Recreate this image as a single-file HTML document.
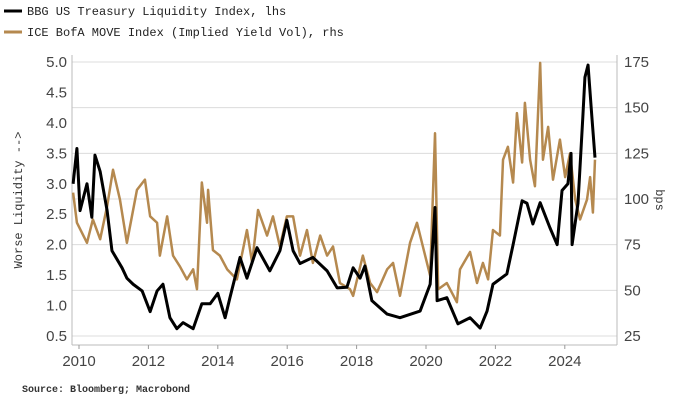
<!DOCTYPE html>
<html><head><meta charset="utf-8"><style>
body{margin:0;background:#fff;width:680px;height:406px;overflow:hidden}
svg{display:block;font-family:"Liberation Sans",sans-serif}
</style></head><body>
<svg id="chart" width="680" height="406">
<g>
 <line x1="4" y1="11" x2="22" y2="11" stroke="#000" stroke-width="3"/>
 <text x="27" y="15" font-family="Liberation Mono,monospace" font-size="12" fill="#222">BBG US Treasury Liquidity Index, lhs</text>
 <line x1="4" y1="32" x2="22" y2="32" stroke="#b5894f" stroke-width="3"/>
 <text x="27" y="36" font-family="Liberation Mono,monospace" font-size="12" fill="#222">ICE BofA MOVE Index (Implied Yield Vol), rhs</text>
</g>
<g id="grid"></g>
<g id="axes"></g>
<g id="series"></g>
<text x="22" y="200" transform="rotate(-90 22 200)" text-anchor="middle" font-family="Liberation Mono,monospace" font-size="12" fill="#333">Worse Liquidity --&gt;</text>
<text x="656" y="200" transform="rotate(90 656 200)" text-anchor="middle" font-family="Liberation Mono,monospace" font-size="12" fill="#333">bps</text>
<text x="22" y="392" font-family="Liberation Mono,monospace" font-size="10" font-weight="bold" fill="#333">Source: Bloomberg; Macrobond</text>
</svg>
<script>
const leftTicks=[0.5,1.0,1.5,2.0,2.5,3.0,3.5,4.0,4.5,5.0];
const rightTicks=[25,50,75,100,125,150,175];
const xTicks=[2010,2012,2014,2016,2018,2020,2022,2024];
const liqYears=[2009.83,2009.94,2010.03,2010.23,2010.37,2010.46,2010.61,2010.81,2010.95,2011.24,2011.38,2011.56,2011.82,2012.05,2012.25,2012.42,2012.62,2012.82,2013.0,2013.29,2013.54,2013.78,2014.0,2014.21,2014.35,2014.64,2014.84,2015.13,2015.5,2015.79,2015.99,2016.17,2016.37,2016.74,2017.15,2017.44,2017.72,2017.9,2018.1,2018.24,2018.44,2018.88,2019.25,2019.83,2020.12,2020.26,2020.32,2020.6,2020.92,2021.27,2021.56,2021.76,2021.93,2022.33,2022.51,2022.77,2022.91,2023.08,2023.29,2023.57,2023.78,2023.92,2024.09,2024.18,2024.21,2024.38,2024.52,2024.58,2024.67,2024.78,2024.87];
const liqValues=[3.0,3.58,2.56,3.0,2.45,3.47,3.2,2.56,1.9,1.62,1.45,1.35,1.24,0.9,1.24,1.35,0.8,0.62,0.72,0.62,1.03,1.03,1.2,0.8,1.13,1.79,1.45,1.95,1.57,1.9,2.4,1.9,1.69,1.79,1.57,1.29,1.3,1.62,1.45,1.65,1.08,0.86,0.8,0.91,1.35,2.61,1.08,1.13,0.7,0.8,0.63,0.91,1.35,1.52,2.0,2.72,2.68,2.34,2.69,2.28,2.0,2.89,3.0,3.5,2.0,2.68,4.1,4.75,4.95,4.1,3.43];
const moveYears=[2009.83,2009.94,2010.23,2010.4,2010.61,2010.81,2010.98,2011.18,2011.38,2011.67,2011.9,2012.05,2012.25,2012.33,2012.54,2012.71,2012.91,2013.11,2013.29,2013.4,2013.54,2013.69,2013.72,2013.86,2014.06,2014.27,2014.55,2014.84,2014.99,2015.16,2015.42,2015.59,2015.79,2015.99,2016.17,2016.37,2016.57,2016.74,2016.95,2017.15,2017.32,2017.52,2017.81,2017.9,2018.18,2018.39,2018.59,2018.88,2019.05,2019.25,2019.54,2019.74,2019.91,2020.12,2020.26,2020.35,2020.6,2020.89,2020.98,2021.27,2021.47,2021.64,2021.79,2021.93,2022.13,2022.22,2022.36,2022.51,2022.62,2022.77,2022.85,2023.0,2023.14,2023.29,2023.37,2023.52,2023.66,2023.86,2024.01,2024.15,2024.3,2024.44,2024.64,2024.73,2024.81,2024.87];
const moveValues=[103.5,87,76,88.8,78,96,116,99.7,76,105,110.6,90.5,87,69,90.5,69,63,56,61.5,50.6,109,87,105,72,69,61.5,56,83,65,94,80,90.5,74,90.5,90.5,69,83,65,80,69,74,54,50.6,47,69,54,49,61.5,65,47,76,87,74,58,136,50.6,54,43.5,61.5,71,54,65,56,83,80,121.5,128.6,109,147,120,152.6,121.5,107,174.5,121.5,139.5,110.6,132.5,112,125,99.7,88.8,99.7,112,92.6,121.5];
const NS="http://www.w3.org/2000/svg";
const X0=72,X1=617,Y0=336,Y1=62;
const xs=y=>79+(y-2010)*34.7;
const yl=v=>Y0-(v-0.5)/4.5*(Y0-Y1);
const yr=v=>Y0-(v-25)/150*(Y0-Y1);
function mk(tag,attrs,parent){const e=document.createElementNS(NS,tag);for(const k in attrs)e.setAttribute(k,attrs[k]);parent.appendChild(e);return e;}
const grid=document.getElementById('grid'),axes=document.getElementById('axes'),ser=document.getElementById('series');
rightTicks.forEach(t=>{const l=mk('line',{x1:X0,x2:X1,y1:yr(t),y2:yr(t),stroke:'#dcdcdc','stroke-width':1},grid);


const tx=mk('text',{x:624,y:yr(t)+5,'font-size':15,fill:'#444'},axes);tx.textContent=t;

});
leftTicks.forEach(t=>{const tx=mk('text',{x:67,y:yl(t)+5,'font-size':15,fill:'#444','text-anchor':'end'},axes);tx.textContent=t.toFixed(1);

});
mk('line',{x1:X0,x2:X0,y1:55,y2:345,stroke:'#bbb'},axes);
mk('line',{x1:X1,x2:X1,y1:55,y2:345,stroke:'#bbb'},axes);
mk('line',{x1:X0,x2:X1,y1:345,y2:345,stroke:'#bbb'},axes);
xTicks.forEach(t=>{mk('line',{x1:xs(t),x2:xs(t),y1:345,y2:349,stroke:'#999'},axes);
const tx=mk('text',{x:xs(t),y:366,'font-size':15,fill:'#444','text-anchor':'middle'},axes);tx.textContent=t;

});
const mp=mk('polyline',{points:moveYears.map((y,i)=>xs(y)+','+yr(moveValues[i])).join(' '),fill:'none',stroke:'#b5894f','stroke-width':2.5,'stroke-linejoin':'round'},ser);


const lp=mk('polyline',{points:liqYears.map((y,i)=>xs(y)+','+yl(liqValues[i])).join(' '),fill:'none',stroke:'#000','stroke-width':3,'stroke-linejoin':'round'},ser);


</script>
</body></html>
